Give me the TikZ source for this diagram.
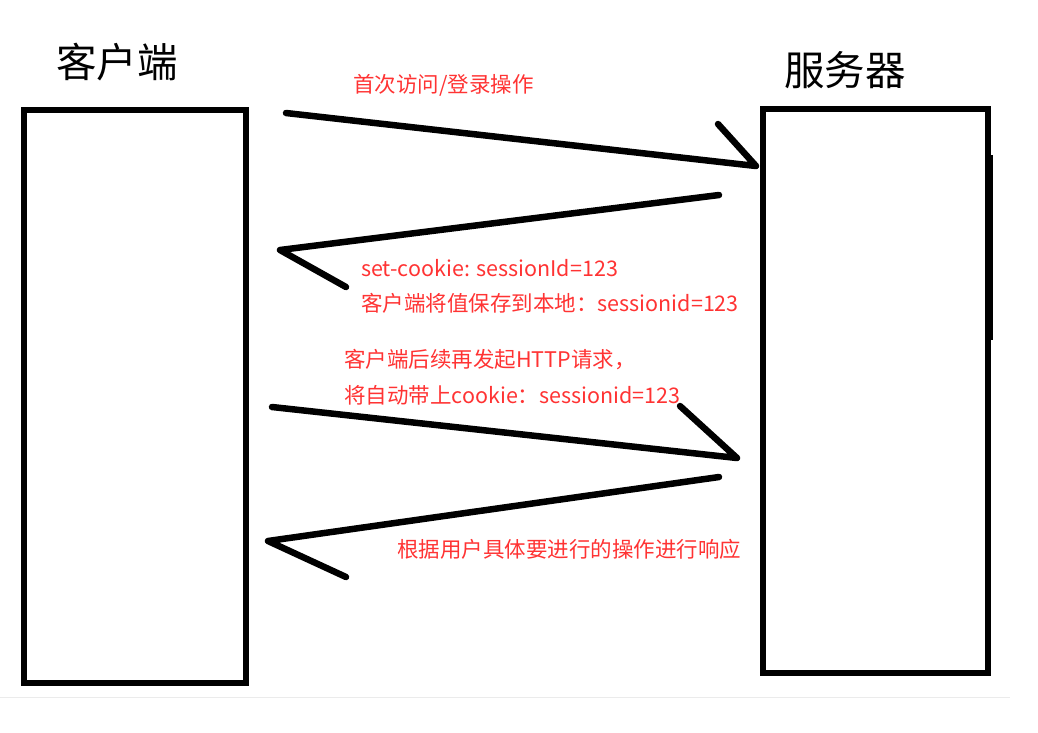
\documentclass[tikz,border=0pt]{standalone}
\usepackage{fontspec}
\newfontfamily\cjk{Noto Sans CJK SC}
\definecolor{notered}{RGB}{255,51,51}
\tikzset{
  box/.style={draw,line width=6pt,minimum width=222pt,minimum height=573pt,inner sep=0pt},
  title/.style={font=\cjk\fontsize{40.5}{42}\selectfont},
  note/.style={anchor=west,text=notered,inner sep=0pt,font=\cjk\fontsize{21.5}{23}\selectfont},
  stroke/.style={line width=6.5pt,line cap=round,line join=round}
}
\begin{document}
\begin{tikzpicture}[x=1pt,y=-1pt]
			\useasboundingbox (0,0) rectangle (1038,732);
			\draw[black!8] (0,697) -- (1010,697);
			
			\node[box] (client) at (135,396.5) {};
			\node[box,minimum width=225pt,minimum height=564pt] (server) at (875.5,391) {};
			\draw[line width=8pt] (989,155) -- (989,340);
			
			\node[title] (clienttitle) at (117,62) {客户端};
			\node[title] (servertitle) at (845,70) {服务器};
			
			% request / response strokes
			\coordinate (a1) at (286,113); \coordinate (b1) at (756,166); \coordinate (h1) at (718,124);
			\coordinate (a2) at (719,195); \coordinate (b2) at (280,250); \coordinate (h2) at (346,287);
			\coordinate (a3) at (272,407); \coordinate (b3) at (737,458); \coordinate (h3) at (680,406);
			\coordinate (a4) at (719,477); \coordinate (b4) at (268,541); \coordinate (h4) at (346,577);
			\foreach \i in {1,...,4} {
				\draw[stroke] (a\i) -- (b\i) -- (h\i);
			}
			
			\node[note] (login) at (353,85) {首次访问/登录操作};
			\node[note] (setcookie) at (361,268) {set-cookie: sessionId=123};
			\node[note] (save) at (361,303) {客户端将值保存到本地：sessionid=123};
			\node[note] (again) at (344,360) {客户端后续再发起HTTP请求，};
			\node[note] (carry) at (344,395) {将自动带上cookie：sessionid=123};
			\node[note] (reply) at (397,549) {根据用户具体要进行的操作进行响应};
			\end{tikzpicture}
\end{document}
